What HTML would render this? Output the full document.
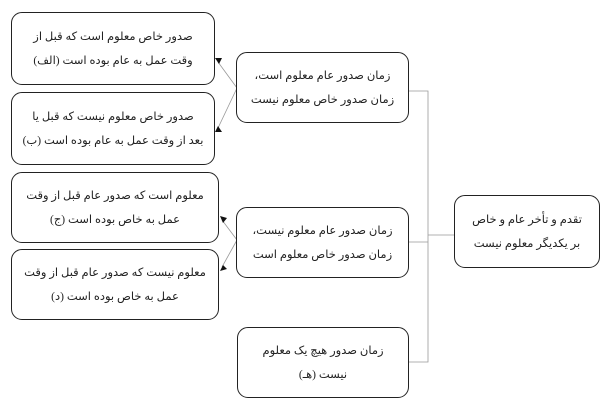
<!DOCTYPE html>
<html><head><meta charset="utf-8"><style>
body{margin:0;width:614px;height:406px;background:#fff;position:relative;overflow:hidden;font-family:"Liberation Serif","DejaVu Sans",serif;}
.b{position:absolute;box-sizing:border-box;border:1.3px solid #222;border-radius:11px;background:#fff;direction:rtl;text-align:center;font-size:11.5px;line-height:24px;color:#222;display:flex;align-items:center;justify-content:center;}
svg{position:absolute;left:0;top:0}
</style></head><body>
<svg width="614" height="406">
<g stroke="#999" stroke-width="0.8" fill="none">
<path d="M409 91 H428 V362 H409 M409 242 H428 M428 235 H454"/>
<path d="M237 88 L218 62 M237 88 L218 128 M237 240 L222 220 M237 240 L222 267"/>
</g>
<g fill="#111">
<path d="M215 58 l7 0 l-3 6z"/>
<path d="M215 132 l7 0 l-4 -6z"/>
<path d="M220 216 l7 2 l-4 5z"/>
<path d="M220 271 l7 -2 l-4 -4z"/>
</g>
</svg>
<div class="b" style="left:11px;top:12px;width:204px;height:73px">صدور خاص معلوم است که قبل از<br>وقت عمل به عام بوده است (الف)</div>
<div class="b" style="left:11px;top:92px;width:204px;height:73px">صدور خاص معلوم نیست که قبل یا<br>بعد از وقت عمل به عام بوده است (ب)</div>
<div class="b" style="left:11px;top:172px;width:208px;height:71px">معلوم است که صدور عام قبل از وقت<br>عمل به خاص بوده است (ج)</div>
<div class="b" style="left:11px;top:249px;width:208px;height:71px">معلوم نیست که صدور عام قبل از وقت<br>عمل به خاص بوده است (د)</div>
<div class="b" style="left:236px;top:52px;width:173px;height:71px">زمان صدور عام معلوم است،<br>زمان صدور خاص معلوم نیست</div>
<div class="b" style="left:236px;top:207px;width:173px;height:71px">زمان صدور عام معلوم نیست،<br>زمان صدور خاص معلوم است</div>
<div class="b" style="left:237px;top:327px;width:172px;height:71px">زمان صدور هیچ یک معلوم<br>نیست (هـ)</div>
<div class="b" style="left:454px;top:195px;width:146px;height:73px">تقدم و تأخر عام و خاص<br>بر یکدیگر معلوم نیست</div>
</body></html>
